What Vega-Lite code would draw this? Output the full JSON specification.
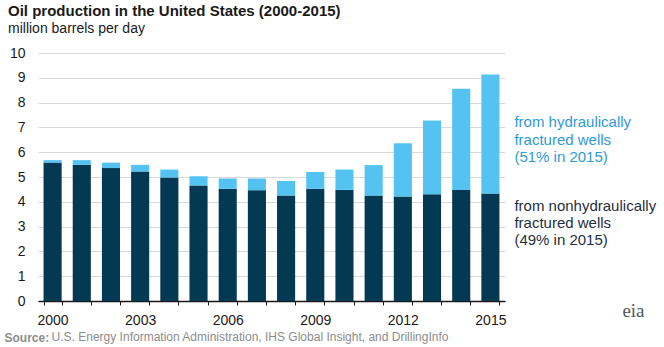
{
  "$schema": "https://vega.github.io/schema/vega-lite/v6.json",
  "autosize": {"type": "none"},
  "width": 467,
  "height": 248,
  "padding": {"left": 38, "top": 53, "right": 159, "bottom": 46},
  "background": "white",
  "config": {
    "font": "Liberation Sans",
    "view": {"stroke": null}
  },
  "title": {
    "text": "Oil production in the United States (2000-2015)",
    "subtitle": "million barrels per day",
    "anchor": "start",
    "frame": "group",
    "dx": -30,
    "offset": 10,
    "font": "Liberation Sans",
    "fontSize": 15,
    "fontWeight": "bold",
    "color": "#1a1a1a",
    "subtitleFont": "Liberation Sans",
    "subtitleFontSize": 14,
    "subtitleColor": "#1a1a1a",
    "subtitlePadding": 3
  },
  "encoding": {
    "x": {
      "field": "year",
      "type": "ordinal",
      "scale": {"paddingInner": 0.38, "paddingOuter": 0.19},
      "axis": {
        "title": "Source:",
        "titleFont": "Liberation Sans",
        "titleFontSize": 12,
        "titleFontWeight": "bold",
        "titleColor": "#8c8c8c",
        "titleAnchor": "start",
        "titleAlign": "left",
        "titleBaseline": "alphabetic",
        "titleX": -34,
        "titleY": 40,
        "labelAngle": 0,
        "labelFont": "Liberation Sans",
        "labelFontSize": 14,
        "labelColor": "#1a1a1a",
        "labelPadding": 8,
        "labelExpr": "(toNumber(datum.value) - 2000) % 3 == 0 ? datum.value : ''",
        "tickBand": "extent",
        "tickSize": 4,
        "tickColor": "#1a1a1a",
        "tickWidth": 1,
        "domainColor": "#1a1a1a",
        "domainWidth": 1.5,
        "grid": false
      }
    },
    "y": {
      "type": "quantitative",
      "scale": {"domain": [0, 10]},
      "axis": {
        "title": null,
        "values": [0, 1, 2, 3, 4, 5, 6, 7, 8, 9, 10],
        "labelFont": "Liberation Sans",
        "labelFontSize": 14,
        "labelColor": "#1a1a1a",
        "labelPadding": 13,
        "ticks": false,
        "domain": false,
        "grid": true,
        "gridColor": "#d9d9d9",
        "gridWidth": 1
      }
    }
  },
  "layer": [
    {
      "data": {
        "values": [
          {"year": "2000", "type": "nonhydraulic", "value": 5.58},
          {"year": "2000", "type": "hydraulic", "value": 0.10},
          {"year": "2001", "type": "nonhydraulic", "value": 5.49},
          {"year": "2001", "type": "hydraulic", "value": 0.19},
          {"year": "2002", "type": "nonhydraulic", "value": 5.36},
          {"year": "2002", "type": "hydraulic", "value": 0.22},
          {"year": "2003", "type": "nonhydraulic", "value": 5.22},
          {"year": "2003", "type": "hydraulic", "value": 0.27},
          {"year": "2004", "type": "nonhydraulic", "value": 4.98},
          {"year": "2004", "type": "hydraulic", "value": 0.32},
          {"year": "2005", "type": "nonhydraulic", "value": 4.66},
          {"year": "2005", "type": "hydraulic", "value": 0.37},
          {"year": "2006", "type": "nonhydraulic", "value": 4.52},
          {"year": "2006", "type": "hydraulic", "value": 0.42},
          {"year": "2007", "type": "nonhydraulic", "value": 4.47},
          {"year": "2007", "type": "hydraulic", "value": 0.47},
          {"year": "2008", "type": "nonhydraulic", "value": 4.25},
          {"year": "2008", "type": "hydraulic", "value": 0.59},
          {"year": "2009", "type": "nonhydraulic", "value": 4.52},
          {"year": "2009", "type": "hydraulic", "value": 0.68},
          {"year": "2010", "type": "nonhydraulic", "value": 4.48},
          {"year": "2010", "type": "hydraulic", "value": 0.82},
          {"year": "2011", "type": "nonhydraulic", "value": 4.25},
          {"year": "2011", "type": "hydraulic", "value": 1.23},
          {"year": "2012", "type": "nonhydraulic", "value": 4.21},
          {"year": "2012", "type": "hydraulic", "value": 2.15},
          {"year": "2013", "type": "nonhydraulic", "value": 4.30},
          {"year": "2013", "type": "hydraulic", "value": 2.98},
          {"year": "2014", "type": "nonhydraulic", "value": 4.48},
          {"year": "2014", "type": "hydraulic", "value": 4.08},
          {"year": "2015", "type": "nonhydraulic", "value": 4.33},
          {"year": "2015", "type": "hydraulic", "value": 4.80}
        ]
      },
      "mark": {"type": "bar"},
      "encoding": {
        "y": {"field": "value", "type": "quantitative", "stack": "zero"},
        "color": {
          "field": "type",
          "type": "nominal",
          "scale": {"domain": ["nonhydraulic", "hydraulic"], "range": ["#033953", "#55C3F2"]},
          "legend": null
        },
        "order": {"field": "type", "sort": "descending"}
      }
    },
    {
      "data": {"values": [{}]},
      "mark": {"type": "text", "align": "left", "baseline": "middle", "dx": 24, "fontSize": 15, "lineHeight": 17.5, "color": "#2F9AD6", "font": "Liberation Sans"},
      "encoding": {
        "x": {"datum": "2015"},
        "y": {"datum": 7.2},
        "text": {"value": ["from hydraulically", "fractured wells", "(51% in 2015)"]}
      }
    },
    {
      "data": {"values": [{}]},
      "mark": {"type": "text", "align": "left", "baseline": "middle", "dx": 24, "fontSize": 15, "lineHeight": 17, "color": "#1f2f3d", "font": "Liberation Sans"},
      "encoding": {
        "x": {"datum": "2015"},
        "y": {"datum": 3.83},
        "text": {"value": ["from nonhydraulically", "fractured wells", "(49% in 2015)"]}
      }
    },
    {
      "data": {"values": [{}]},
      "mark": {"type": "text", "align": "left", "baseline": "alphabetic", "dx": -1, "dy": 40, "fontSize": 12, "color": "#8c8c8c", "font": "Liberation Sans"},
      "encoding": {
        "x": {"datum": "2000"},
        "y": {"datum": 0},
        "text": {"value": "U.S. Energy Information Administration, IHS Global Insight, and DrillingInfo"}
      }
    },
    {
      "data": {"values": [{}]},
      "mark": {"type": "text", "align": "left", "baseline": "alphabetic", "dx": 132, "dy": 16, "fontSize": 19, "color": "#555555", "font": "Liberation Serif"},
      "encoding": {
        "x": {"datum": "2015"},
        "y": {"datum": 0},
        "text": {"value": "eia"}
      }
    }
  ]
}
